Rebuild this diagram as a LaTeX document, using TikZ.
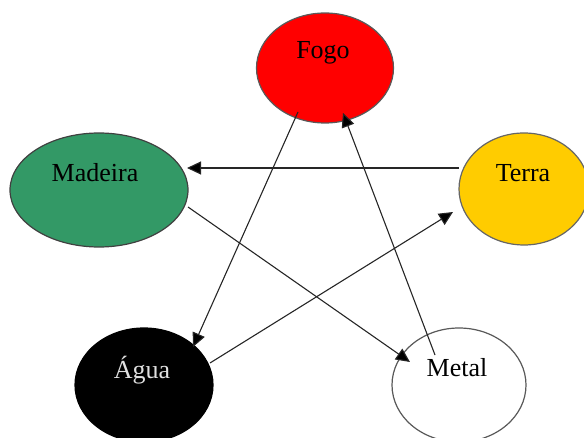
\documentclass[tikz,border=0pt]{standalone}
\usepackage{fontspec}
\setmainfont{Liberation Serif}
\usetikzlibrary{shapes.geometric,arrows.meta,calc}
\definecolor{fogored}{HTML}{FF0000}
\definecolor{madgreen}{HTML}{339966}
\definecolor{terrayel}{HTML}{FFCC00}
\begin{document}
\begin{tikzpicture}[x=1pt,y=-1pt,
  elem/.style={ellipse, inner sep=0pt, outer sep=0pt, line width=1.2pt},
  lbl/.style={font=\fontsize{26}{26}\selectfont, inner sep=0pt},
  conn/.style={draw=black!85, line width=1.1pt, -{Triangle[length=14pt,width=13pt,fill=black]}}]
\useasboundingbox (0,0) rectangle (584,438);
% elements
\node[elem, fill=fogored, draw=black!65, minimum width=137pt, minimum height=110pt] (fogo) at (325,68) {};
\node[elem, fill=madgreen, draw=black!75, minimum width=178pt, minimum height=114pt] (madeira) at (99,190) {};
\node[elem, fill=terrayel, draw=black!60, minimum width=130pt, minimum height=112pt] (terra) at (524,189) {};
\node[elem, fill=black, draw=black, minimum width=138pt, minimum height=114pt] (agua) at (144,385) {};
\node[elem, fill=white, draw=black!65, minimum width=134pt, minimum height=114pt] (metal) at (459,385) {};
% labels
\node[lbl] (tfogo) at (323,53) {Fogo};
\node[lbl] (tmadeira) at (95,173) {Madeira};
\node[lbl] (tterra) at (523,173) {Terra};
\node[lbl, text=black!12] (tagua) at (142,370) {Água};
\node[lbl] (tmetal) at (457,368) {Metal};
% connectors
\draw[conn] ($(terra)+(-65,-21)$) -- ($(madeira)+(88,-22)$);
\draw[conn] ($(madeira)+(89,17)$) -- ($(metal)+(-49,-23)$);
\draw[conn] ($(fogo)+(-27,44)$) -- ($(agua)+(49,-38)$);
\draw[conn] ($(metal)+(-24,-30)$) -- ($(fogo)+(18,45)$);
\draw[conn] ($(agua)+(66,-22)$) -- ($(terra)+(-71,23)$);
\end{tikzpicture}
\end{document}
